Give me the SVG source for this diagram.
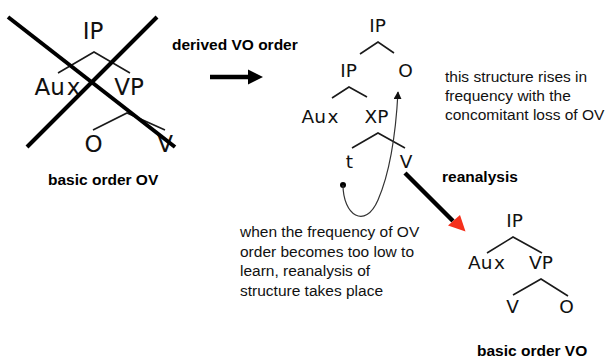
<svg xmlns="http://www.w3.org/2000/svg" width="612" height="358" viewBox="0 0 612 358">
  <style>
    .lbl { font-family: "DejaVu Sans", "Noto Sans", sans-serif; fill: #111; text-anchor: middle; }
    .big { font-size: 23px; }
    .sm { font-size: 18.5px; }
    .branch { fill: none; stroke: #1a1a1a; stroke-width: 1.6; stroke-linejoin: miter; }
    .bold { font-family: "Liberation Sans", Arial, sans-serif; font-weight: bold; font-size: 15.5px; fill: #000; }
    .note { font-family: "Liberation Sans", Arial, sans-serif; font-size: 15.5px; fill: #111; }
    .thick { stroke: #000; stroke-width: 4.5; fill: none; }
  </style>
  <defs>
    <marker id="tipSmall" viewBox="0 0 10 10" refX="9" refY="5" markerWidth="8" markerHeight="8" markerUnits="userSpaceOnUse" orient="auto">
      <path d="M0,0 L10,5 L0,10 z" fill="#111"/>
    </marker>
  </defs>

  <!-- basic OV tree, struck through -->
  <g id="tree-ov">
    <g id="ov-ip"><text class="lbl big" x="93" y="39">IP</text></g>
    <g id="ov-aux"><text class="lbl big" x="57.5" y="95">Au<tspan dx="2">x</tspan></text></g>
    <g id="ov-vp"><text class="lbl big" x="129" y="95">VP</text></g>
    <g id="ov-o"><text class="lbl big" x="93.5" y="152">O</text></g>
    <g id="ov-v"><text class="lbl big" x="165" y="152">V</text></g>
    <polyline class="branch" points="58,73 94,52 130,73"/>
    <polyline class="branch" points="93,130 127,113 165,130"/>
  </g>
  <g id="strike">
    <line x1="8" y1="17" x2="175" y2="147" stroke="#000" stroke-width="4"/>
    <line x1="157" y1="17" x2="27" y2="147" stroke="#000" stroke-width="4"/>
  </g>
  <text class="bold" x="48" y="185">basic order OV</text>

  <!-- derived VO tree -->
  <g id="tree-derived">
    <g id="d-ip-top"><text class="lbl sm" x="377.5" y="32">IP</text></g>
    <g id="d-ip"><text class="lbl sm" x="348.5" y="77">IP</text></g>
    <g id="d-o"><text class="lbl sm" x="405.5" y="77">O</text></g>
    <g id="d-aux"><text class="lbl sm" x="320" y="123">Au<tspan dx="1.5">x</tspan></text></g>
    <g id="d-xp"><text class="lbl sm" x="376.5" y="123">XP</text></g>
    <g id="d-t"><text class="lbl sm" x="349.5" y="168">t</text></g>
    <g id="d-v"><text class="lbl sm" x="406" y="168">V</text></g>
    <polyline class="branch" points="360,54 378,42 394,53"/>
    <polyline class="branch" points="332,98 349,87 367,97"/>
    <polyline class="branch" points="352,148 378,133 405,148"/>
  </g>

  <!-- result VO tree -->
  <g id="tree-vo">
    <g id="vo-ip"><text class="lbl sm" x="514.5" y="227">IP</text></g>
    <g id="vo-aux"><text class="lbl sm" x="486.5" y="269">Au<tspan dx="1.5">x</tspan></text></g>
    <g id="vo-vp"><text class="lbl sm" x="541" y="269">VP</text></g>
    <g id="vo-v"><text class="lbl sm" x="512.5" y="313">V</text></g>
    <g id="vo-o"><text class="lbl sm" x="566.5" y="313">O</text></g>
    <polyline class="branch" points="487,253 513,237 542,253"/>
    <polyline class="branch" points="513,295 541,279 568,296"/>
  </g>
  <text class="bold" x="477" y="356">basic order VO</text>

  <!-- connectors -->
  <g id="connectors">
    <line class="thick" x1="210" y1="77" x2="250" y2="77"/>
    <polygon points="248,69.5 263,77 248,84.5" fill="#000"/>
    <circle cx="343" cy="185" r="3" fill="#000"/>
    <path d="M343,185 C343,215 365,230 378,200 C391,170 396,130 398,92" fill="none" stroke="#333" stroke-width="1.2" marker-end="url(#tipSmall)"/>
    <line class="thick" x1="405" y1="173" x2="453" y2="221"/>
    <polygon points="448,225.5 460,215 465.5,231.5" fill="#f5301c"/>
  </g>

  <!-- labels and notes -->
  <text class="bold" x="172" y="50">derived VO order</text>
  <text class="bold" x="442" y="182">reanalysis</text>
  <text class="note">
    <tspan x="445" y="82">this structure rises in</tspan>
    <tspan x="445" y="101">frequency with the</tspan>
    <tspan x="445" y="119.5">concomitant loss of OV</tspan>
  </text>
  <text class="note">
    <tspan x="240" y="237">when the frequency of OV</tspan>
    <tspan x="240" y="256.5">order becomes too low to</tspan>
    <tspan x="240" y="276">learn, reanalysis of</tspan>
    <tspan x="240" y="295.5">structure takes place</tspan>
  </text>
</svg>
